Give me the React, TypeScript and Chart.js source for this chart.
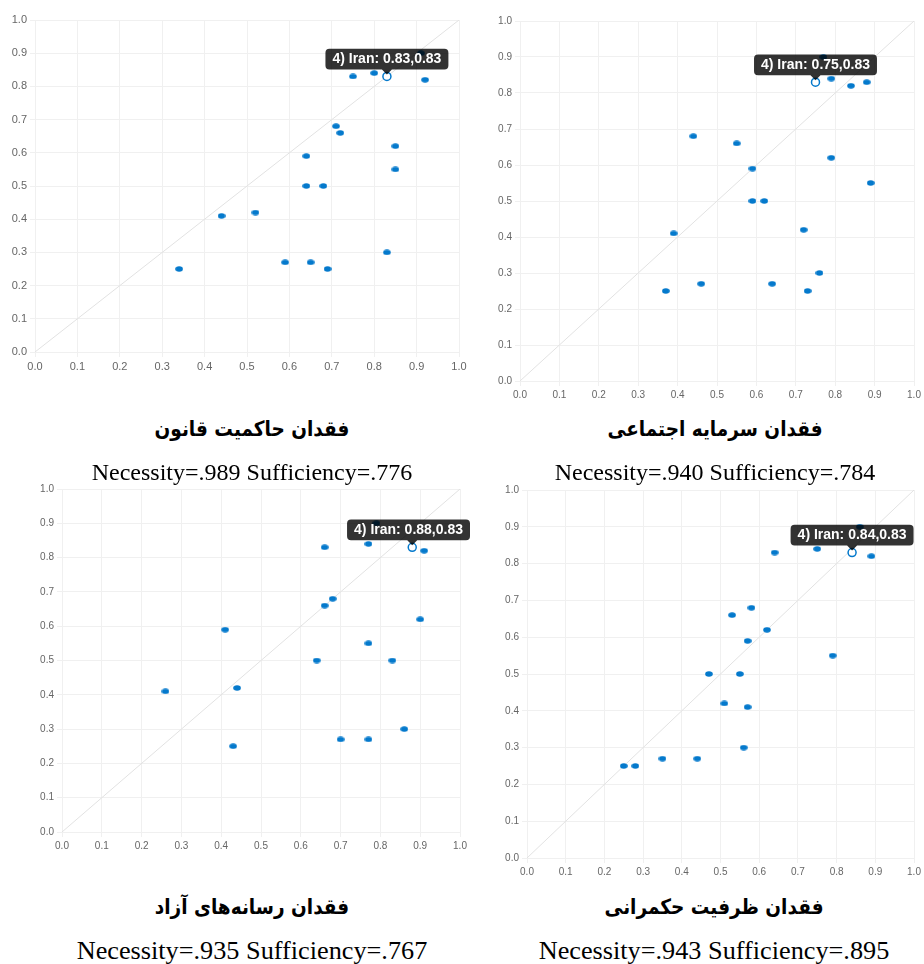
import React, { useEffect, useRef } from "react";
import { Chart, registerables } from "chart.js";

Chart.register(...registerables);

// ---------- data ----------
const CHART_TITLES = [
  "فقدان حاکمیت قانون",
  "فقدان سرمایه اجتماعی",
  "فقدان رسانه‌های آزاد",
  "فقدان ظرفیت حکمرانی",
];
const NECESSITY = [".989", ".940", ".935", ".943"];
const SUFFICIENCY = [".776", ".784", ".767", ".895"];

const CASE_NUMBER = 4;
const CASE_NAME = "Iran";
const IRAN_X = [0.83, 0.75, 0.88, 0.84];
const IRAN_Y = [0.83, 0.83, 0.83, 0.83];

const TICK_VALUES = [0, 0.1, 0.2, 0.3, 0.4, 0.5, 0.6, 0.7, 0.8, 0.9, 1.0];
const DIAGONAL_X = [0, 1];
const DIAGONAL_Y = [0, 1];

const ruleOfLawX = [0.75, 0.8, 0.92, 0.91, 0.71, 0.72, 0.85, 0.64, 0.85, 0.64, 0.68, 0.44, 0.52, 0.83, 0.34, 0.59, 0.65, 0.69];
const ruleOfLawY = [0.83, 0.84, 0.82, 0.9, 0.68, 0.66, 0.62, 0.59, 0.55, 0.5, 0.5, 0.41, 0.42, 0.3, 0.25, 0.27, 0.27, 0.25];

const socialCapitalX = [0.77, 0.79, 0.84, 0.88, 0.44, 0.55, 0.59, 0.79, 0.89, 0.59, 0.62, 0.39, 0.72, 0.76, 0.37, 0.46, 0.64, 0.73];
const socialCapitalY = [0.9, 0.84, 0.82, 0.83, 0.68, 0.66, 0.59, 0.62, 0.55, 0.5, 0.5, 0.41, 0.42, 0.3, 0.25, 0.27, 0.27, 0.25];

const freeMediaX = [0.79, 0.66, 0.77, 0.91, 0.66, 0.68, 0.41, 0.9, 0.77, 0.64, 0.83, 0.26, 0.44, 0.43, 0.7, 0.77, 0.86];
const freeMediaY = [0.9, 0.83, 0.84, 0.82, 0.66, 0.68, 0.59, 0.62, 0.55, 0.5, 0.5, 0.41, 0.42, 0.25, 0.27, 0.27, 0.3];

const governanceX = [0.86, 0.64, 0.75, 0.89, 0.58, 0.53, 0.62, 0.57, 0.79, 0.47, 0.55, 0.51, 0.57, 0.56, 0.25, 0.28, 0.35, 0.44];
const governanceY = [0.9, 0.83, 0.84, 0.82, 0.68, 0.66, 0.62, 0.59, 0.55, 0.5, 0.5, 0.42, 0.41, 0.3, 0.25, 0.25, 0.27, 0.27];

const SERIES_X = [ruleOfLawX, socialCapitalX, freeMediaX, governanceX];
const SERIES_Y = [ruleOfLawY, socialCapitalY, freeMediaY, governanceY];

// ---------- layout (page coordinates) ----------
type Layout = {
  left: number; top: number; width: number; height: number;
  plotLeft: number; plotTop: number; plotRight: number; plotBottom: number;
  tickSize: number;
  titleX: number; titleY: number; noteY: number; noteSize: number; noteScale: number;
};

const LAYOUTS: Layout[] = [
  { left: 0, top: 0, width: 470, height: 378, plotLeft: 35, plotTop: 20, plotRight: 459, plotBottom: 352, tickSize: 11, titleX: 252, titleY: 430, noteY: 472, noteSize: 24, noteScale: 1 },
  { left: 475, top: 0, width: 449, height: 407, plotLeft: 520, plotTop: 21, plotRight: 914, plotBottom: 381, tickSize: 10, titleX: 715, titleY: 430, noteY: 472, noteSize: 24, noteScale: 1 },
  { left: 0, top: 478, width: 470, height: 380, plotLeft: 62, plotTop: 489, plotRight: 460, plotBottom: 832, tickSize: 10, titleX: 252, titleY: 908, noteY: 951, noteSize: 25, noteScale: 1.05 },
  { left: 475, top: 478, width: 449, height: 406, plotLeft: 527, plotTop: 490, plotRight: 914, plotBottom: 858, tickSize: 10, titleX: 714, titleY: 908, noteY: 951, noteSize: 25, noteScale: 1.05 },
];

const POINT_BLUE = "#0479cc";
const GRID_COLOR = "#f0f0f0";

function makeEllipse(): HTMLCanvasElement {
  const c = document.createElement("canvas");
  c.width = 8;
  c.height = 6;
  const ctx = c.getContext("2d")!;
  ctx.fillStyle = POINT_BLUE;
  ctx.beginPath();
  ctx.ellipse(4, 3, 3.8, 2.8, 0, 0, Math.PI * 2);
  ctx.fill();
  return c;
}

function ScatterPanel({ idx }: { idx: number }) {
  const ref = useRef<HTMLCanvasElement | null>(null);
  const L = LAYOUTS[idx];

  useEffect(() => {
    if (!ref.current) return;
    const ellipse = makeEllipse();
    const points = SERIES_X[idx].map((x, i) => ({ x, y: SERIES_Y[idx][i] }));
    const iran = [{ x: IRAN_X[idx], y: IRAN_Y[idx] }];
    const diag = DIAGONAL_X.map((x, i) => ({ x, y: DIAGONAL_Y[i] }));

    const axisCommon = (isX: boolean) => ({
      type: "linear" as const,
      min: 0,
      max: 1,
      afterBuildTicks: (scale: any) => {
        scale.ticks = TICK_VALUES.map((v) => ({ value: v }));
      },
      afterFit: (scale: any) => {
        if (isX) scale.height = L.top + L.height - L.plotBottom;
        else scale.width = L.plotLeft - L.left;
      },
      ticks: {
        color: "#666",
        padding: 3,
        autoSkip: false,
        maxRotation: 0,
        font: { family: "'Liberation Sans', Arial, sans-serif", size: L.tickSize },
        callback: (v: any) => Number(v).toFixed(1),
      },
      grid: { color: GRID_COLOR, tickLength: 5, lineWidth: 1 },
      border: { color: GRID_COLOR },
    });

    const chart = new Chart(ref.current, {
      type: "scatter",
      data: {
        datasets: [
          {
            label: CASE_NAME,
            data: iran,
            pointStyle: "circle",
            pointRadius: 4,
            pointHoverRadius: 4,
            pointBackgroundColor: "#ffffff",
            pointHoverBackgroundColor: "#ffffff",
            pointBorderColor: POINT_BLUE,
            pointHoverBorderColor: POINT_BLUE,
            pointBorderWidth: 1.5,
            pointHoverBorderWidth: 1.5,
          },
          {
            label: "cases",
            data: points,
            pointStyle: ellipse as any,
            pointRadius: 3,
            pointHoverRadius: 3,
          },
          {
            label: "diagonal",
            type: "line" as any,
            data: diag,
            showLine: true,
            borderColor: "#e2e2e2",
            borderWidth: 1,
            pointRadius: 0,
            pointHoverRadius: 0,
            fill: false,
          } as any,
        ],
      },
      options: {
        animation: false,
        responsive: true,
        maintainAspectRatio: false,
        events: [],
        layout: {
          padding: {
            left: 0,
            top: L.plotTop - L.top,
            right: L.left + L.width - L.plotRight,
            bottom: 0,
          },
        },
        scales: { x: axisCommon(true) as any, y: axisCommon(false) as any },
        plugins: {
          legend: { display: false },
          tooltip: {
            enabled: true,
            displayColors: false,
            backgroundColor: "rgba(0,0,0,0.8)",
            bodyColor: "#fff",
            bodyFont: { family: "'Liberation Sans', Arial, sans-serif", size: 14, weight: "bold" },
            padding: { top: 2, bottom: 2, left: 7, right: 7 },
            cornerRadius: 4,
            caretSize: 5,
            caretPadding: 2,
            yAlign: "bottom",
            xAlign: "center",
            callbacks: {
              title: () => "",
              label: (ctx: any) =>
                `${CASE_NUMBER}) ${CASE_NAME}: ${ctx.parsed.x.toFixed(2)},${ctx.parsed.y.toFixed(2)}`,
            },
          },
        },
      },
    });

    const active = [{ datasetIndex: 0, index: 0 }];
    chart.setActiveElements(active);
    chart.tooltip?.setActiveElements(active, { x: 0, y: 0 });
    chart.update();

    return () => chart.destroy();
  }, [idx]);

  return (
    <div
      style={{
        position: "absolute",
        left: L.left,
        top: L.top,
        width: L.width,
        height: L.height,
      }}
    >
      <canvas ref={ref} />
    </div>
  );
}

function Caption({ idx }: { idx: number }) {
  const L = LAYOUTS[idx];
  const titleSize = 21;
  const titleLH = titleSize * 1.4;
  const noteLH = L.noteSize * 1.2;
  return (
    <>
      <div
        dir="rtl"
        style={{
          position: "absolute",
          left: L.titleX - 250,
          width: 500,
          top: L.titleY - titleLH / 2,
          lineHeight: `${titleLH}px`,
          fontSize: titleSize,
          fontWeight: "bold",
          textAlign: "center",
          color: "#000",
          whiteSpace: "nowrap",
          transform: "scaleX(0.88)",
          fontFamily: "'DejaVu Sans', 'Noto Sans', serif",
        }}
      >
        {CHART_TITLES[idx]}
      </div>
      <div
        style={{
          position: "absolute",
          left: L.titleX - 250,
          width: 500,
          top: L.noteY - noteLH / 2,
          lineHeight: `${noteLH}px`,
          fontSize: L.noteSize,
          textAlign: "center",
          color: "#000",
          whiteSpace: "nowrap",
          transform: `scaleX(${L.noteScale})`,
          fontFamily: "'Liberation Serif', 'Times New Roman', serif",
        }}
      >
        {`Necessity=${NECESSITY[idx]} Sufficiency=${SUFFICIENCY[idx]}`}
      </div>
    </>
  );
}

export default function App() {
  return (
    <div
      style={{
        position: "absolute",
        left: 0,
        top: 0,
        width: 924,
        height: 964,
        overflow: "hidden",
        background: "#fff",
      }}
    >
      {[0, 1, 2, 3].map((i) => (
        <ScatterPanel key={`p${i}`} idx={i} />
      ))}
      {[0, 1, 2, 3].map((i) => (
        <Caption key={`c${i}`} idx={i} />
      ))}
    </div>
  );
}
